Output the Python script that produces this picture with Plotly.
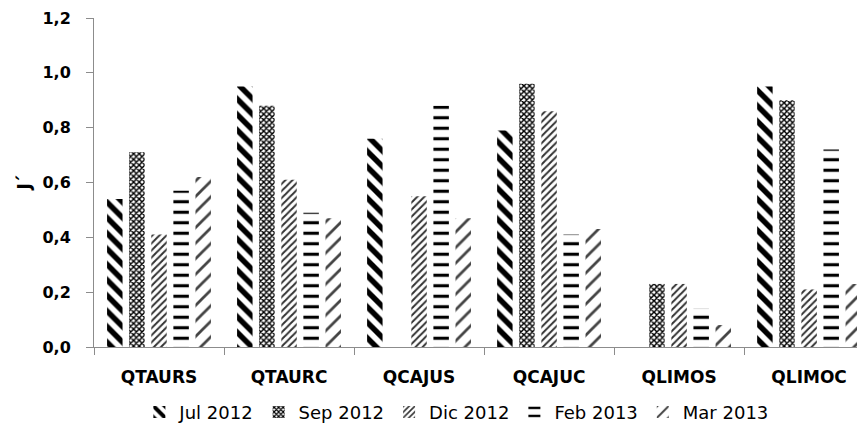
import plotly.graph_objects as go

categories = ["QTAURS", "QTAURC", "QCAJUS", "QCAJUC", "QLIMOS", "QLIMOC"]
jul_2012 = [0.54, 0.95, 0.76, 0.79, None, 0.95]
sep_2012 = [0.71, 0.88, None, 0.96, 0.23, 0.90]
dic_2012 = [0.41, 0.61, 0.55, 0.86, 0.23, 0.21]
feb_2013 = [0.57, 0.49, 0.88, 0.41, 0.14, 0.72]
mar_2013 = [0.62, 0.47, 0.47, 0.43, 0.08, 0.23]
y_ticks = [0.0, 0.2, 0.4, 0.6, 0.8, 1.0, 1.2]
y_tick_labels = ["0,0", "0,2", "0,4", "0,6", "0,8", "1,0", "1,2"]

series = [
    ("Jul 2012", jul_2012, dict(shape="\\", fgcolor="black", bgcolor="white", size=11, solidity=0.5, fgopacity=1)),
    ("Sep 2012", sep_2012, dict(shape="x", fgcolor="black", bgcolor="white", size=4, solidity=0.6, fgopacity=1)),
    ("Dic 2012", dic_2012, dict(shape="/", fgcolor="#333333", bgcolor="white", size=5, solidity=0.4, fgopacity=1)),
    ("Feb 2013", feb_2013, dict(shape="-", fgcolor="black", bgcolor="white", size=10.5, solidity=0.3, fgopacity=1)),
    ("Mar 2013", mar_2013, dict(shape="/", fgcolor="#444444", bgcolor="white", size=11, solidity=0.25, fgopacity=1)),
]

fig = go.Figure()
for name, vals, pat in series:
    fig.add_trace(go.Bar(
        x=categories, y=vals, name=name,
        marker=dict(color="white", line=dict(width=0), pattern=pat),
    ))

axis_color = "#8c8c8c"
fig.update_layout(
    width=857, height=417,
    margin=dict(l=86, r=0, t=10, b=78, autoexpand=False),
    paper_bgcolor="white", plot_bgcolor="white",
    barmode="group", bargap=0.15, bargroupgap=0.3,
    separators=", ",
    font=dict(family="DejaVu Sans, sans-serif", size=18, color="black"),
    showlegend=True,
    legend=dict(orientation="h", x=0.47, xanchor="center", y=-0.142, yanchor="top",
                font=dict(size=18), itemwidth=30, traceorder="normal"),
    annotations=[dict(text="<b>J´</b>", xref="paper", yref="y", x=-0.092, y=0.6,
                      textangle=-90, showarrow=False, xanchor="center", yanchor="middle",
                      font=dict(size=17, family="DejaVu Sans"))],
)
fig.update_yaxes(
    range=[0, 1.2], tickvals=y_ticks, ticktext=y_tick_labels,
    showline=True, linecolor=axis_color, linewidth=1,
    ticks="outside", ticklen=7, tickcolor=axis_color,
    showgrid=False, zeroline=False, ticklabelstandoff=12, ticklabeloverflow="allow",
    tickfont=dict(size=16, family="DejaVu Sans", weight="bold"),
)
fig.update_xaxes(
    range=[-0.5, 5.43],
    showline=True, linecolor=axis_color, linewidth=1,
    ticks="outside", ticklen=7, tickcolor=axis_color, tickson="boundaries",
    showgrid=False, ticklabelstandoff=15,
    tickfont=dict(size=17, family="DejaVu Sans", weight="bold"),
)

fig.write_html("out.html")
